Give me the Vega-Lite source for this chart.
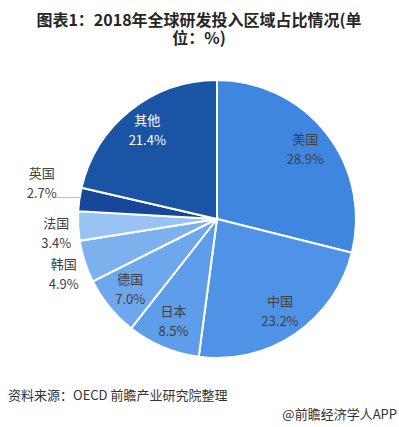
{
  "$schema": "https://vega.github.io/schema/vega-lite/v6.json",
  "background": "white",
  "padding": {"left": 8, "right": 0, "top": 13, "bottom": 0},
  "config": {"view": {"stroke": null}, "font": "Noto Sans CJK SC", "concat": {"spacing": 28}},
  "title": {"text": "@前瞻经济学人APP", "orient": "bottom", "anchor": "end", "fontSize": 13, "fontWeight": "normal", "color": "#333333", "dx": -2, "offset": 4, "dy": -5},
  "datasets": {
    "rd": [
      {"name": "美国", "value": 28.9, "rank": 1},
      {"name": "中国", "value": 23.2, "rank": 2},
      {"name": "日本", "value": 8.5, "rank": 3},
      {"name": "德国", "value": 7.0, "rank": 4},
      {"name": "韩国", "value": 4.9, "rank": 5},
      {"name": "法国", "value": 3.4, "rank": 6},
      {"name": "英国", "value": 2.7, "rank": 7},
      {"name": "其他", "value": 21.4, "rank": 8}
    ]
  },
  "vconcat": [
    {
      "width": 364,
      "height": 286,
      "title": {"text": ["图表1：2018年全球研发投入区域占比情况(单", "位：%)"], "fontSize": 16, "fontWeight": "bold", "color": "#262626", "lineHeight": 18, "anchor": "middle", "dx": -18, "offset": 29},
      "data": {"name": "rd"},
      "transform": [
        {"stack": "value", "groupby": [], "sort": [{"field": "rank", "order": "ascending"}], "as": ["v0", "v1"]},
        {"calculate": "(datum.v0 + datum.v1) / 2", "as": "mid"},
        {"calculate": "datum.name + '\\n' + format(datum.value, '.1f') + '%'", "as": "label"}
      ],
      "layer": [
        {
          "mark": {"type": "arc", "radius": 139, "stroke": "white", "strokeWidth": 2},
          "encoding": {
            "theta": {"field": "v0", "type": "quantitative", "scale": {"domain": [0, 100]}},
            "theta2": {"field": "v1"},
            "color": {"field": "name", "type": "nominal", "legend": null,
              "scale": {"domain": ["美国", "中国", "日本", "德国", "韩国", "法国", "英国", "其他"],
                        "range": ["#3F86E0", "#4F93E6", "#5D9DE9", "#6DA7EC", "#7BB1EF", "#99C3F4", "#17479A", "#1A55A5"]}}
          }
        },
        {
          "transform": [{"filter": "indexof(['美国','中国','日本','德国','其他'], datum.name) >= 0"}],
          "mark": {"type": "text", "radius": 112, "dy": -10, "lineBreak": "\n", "lineHeight": 20, "fontSize": 13, "align": "center", "baseline": "middle"},
          "encoding": {
            "theta": {"field": "mid", "type": "quantitative", "scale": {"domain": [0, 100]}},
            "text": {"field": "label"},
            "color": {"condition": {"test": "datum.name == '其他'", "value": "white"}, "value": "#404040"}
          }
        },
        {
          "transform": [{"filter": "datum.name == '韩国' || datum.name == '法国'"}],
          "mark": {"type": "text", "radius": 161, "dy": -3, "lineBreak": "\n", "lineHeight": 20, "fontSize": 13, "align": "center", "baseline": "middle", "color": "#404040"},
          "encoding": {
            "theta": {"field": "mid", "type": "quantitative", "scale": {"domain": [0, 100]}},
            "text": {"field": "label"}
          }
        },
        {
          "transform": [{"filter": "datum.name == '英国'"}],
          "mark": {"type": "text", "radius": 177, "dy": -20, "lineBreak": "\n", "lineHeight": 20, "fontSize": 13, "align": "center", "baseline": "middle", "color": "#404040"},
          "encoding": {
            "theta": {"field": "mid", "type": "quantitative", "scale": {"domain": [0, 100]}},
            "text": {"field": "label"}
          }
        },
        {
          "transform": [{"filter": "datum.name == '英国'"}],
          "mark": {"type": "text", "radius": 151, "dy": 0, "text": "─────", "font": "DejaVu Sans", "fontSize": 8, "align": "center", "baseline": "middle", "color": "#A6A6A6"},
          "encoding": {
            "theta": {"field": "mid", "type": "quantitative", "scale": {"domain": [0, 100]}}
          }
        }
      ]
    },
    {
      "width": 364,
      "height": 1,
      "data": {"values": []},
      "mark": "point",
      "title": {"text": "资料来源：OECD 前瞻产业研究院整理", "anchor": "start", "dx": -27, "fontSize": 13, "fontWeight": "normal", "color": "#333333", "offset": 6}
    }
  ]
}
